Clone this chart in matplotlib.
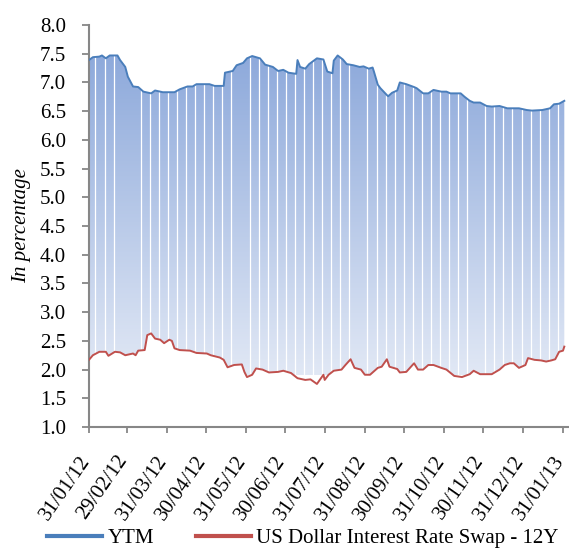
import numpy as np
import pandas as pd
import matplotlib
matplotlib.use("Agg")
import matplotlib.pyplot as plt
import matplotlib.dates as mdates
from matplotlib.colors import LinearSegmentedColormap
from matplotlib.lines import Line2D
from matplotlib.transforms import ScaledTranslation

# data
ytm_dates = ["2012-01-31", "2012-02-03", "2012-02-08", "2012-02-10", "2012-02-13", "2012-02-16",
             "2012-02-22", "2012-02-24", "2012-02-28", "2012-03-01", "2012-03-05", "2012-03-09",
             "2012-03-13", "2012-03-19", "2012-03-22", "2012-03-28", "2012-04-06", "2012-04-10",
             "2012-04-16", "2012-04-20", "2012-04-23", "2012-05-03", "2012-05-07", "2012-05-14",
             "2012-05-15", "2012-05-21", "2012-05-24", "2012-05-29", "2012-06-01", "2012-06-05",
             "2012-06-11", "2012-06-15", "2012-06-21", "2012-06-25", "2012-06-29", "2012-07-03",
             "2012-07-09", "2012-07-10", "2012-07-12", "2012-07-16", "2012-07-19", "2012-07-25",
             "2012-07-30", "2012-08-02", "2012-08-06", "2012-08-07", "2012-08-10", "2012-08-14",
             "2012-08-17", "2012-08-22", "2012-08-27", "2012-08-30", "2012-09-03", "2012-09-06",
             "2012-09-07", "2012-09-10", "2012-09-12", "2012-09-17", "2012-09-18", "2012-09-21",
             "2012-09-25", "2012-09-27", "2012-10-02", "2012-10-08", "2012-10-10", "2012-10-15",
             "2012-10-19", "2012-10-23", "2012-10-29", "2012-11-02", "2012-11-05", "2012-11-13",
             "2012-11-16", "2012-11-20", "2012-11-23", "2012-11-28", "2012-12-03", "2012-12-07",
             "2012-12-13", "2012-12-19", "2012-12-28", "2013-01-03", "2013-01-07", "2013-01-15",
             "2013-01-21", "2013-01-24", "2013-01-28", "2013-02-01"]
ytm_values = [7.39, 7.44, 7.45, 7.47, 7.42, 7.47,
              7.47, 7.39, 7.27, 7.10, 6.93, 6.92,
              6.84, 6.81, 6.86, 6.83, 6.83, 6.88,
              6.93, 6.93, 6.97, 6.97, 6.94, 6.94,
              7.17, 7.20, 7.30, 7.34, 7.42, 7.46,
              7.42, 7.31, 7.27, 7.20, 7.22, 7.17,
              7.15, 7.39, 7.27, 7.24, 7.32, 7.42,
              7.40, 7.19, 7.16, 7.38, 7.47, 7.40,
              7.32, 7.30, 7.27, 7.28, 7.24, 7.26,
              7.19, 6.96, 6.90, 6.78, 6.76, 6.82,
              6.86, 7.00, 6.97, 6.92, 6.90, 6.81,
              6.81, 6.87, 6.84, 6.84, 6.81, 6.81,
              6.75, 6.68, 6.65, 6.65, 6.59, 6.58,
              6.59, 6.55, 6.55, 6.52, 6.51, 6.52,
              6.55, 6.62, 6.63, 6.68]

swap_dates = ["2012-01-31", "2012-02-03", "2012-02-08", "2012-02-13", "2012-02-15", "2012-02-20",
              "2012-02-24", "2012-02-28", "2012-03-05", "2012-03-07", "2012-03-09", "2012-03-14",
              "2012-03-16", "2012-03-19", "2012-03-22", "2012-03-26", "2012-03-29", "2012-04-02",
              "2012-04-04", "2012-04-06", "2012-04-10", "2012-04-18", "2012-04-23", "2012-05-01",
              "2012-05-04", "2012-05-11", "2012-05-14", "2012-05-17", "2012-05-22", "2012-05-28",
              "2012-05-30", "2012-06-01", "2012-06-05", "2012-06-08", "2012-06-13", "2012-06-18",
              "2012-06-25", "2012-06-29", "2012-07-05", "2012-07-10", "2012-07-16", "2012-07-20",
              "2012-07-25", "2012-07-30", "2012-07-31", "2012-08-03", "2012-08-07", "2012-08-13",
              "2012-08-16", "2012-08-20", "2012-08-23", "2012-08-28", "2012-08-31", "2012-09-04",
              "2012-09-10", "2012-09-13", "2012-09-17", "2012-09-19", "2012-09-25", "2012-09-27",
              "2012-10-02", "2012-10-08", "2012-10-11", "2012-10-15", "2012-10-19", "2012-10-23",
              "2012-10-29", "2012-11-02", "2012-11-08", "2012-11-14", "2012-11-20", "2012-11-23",
              "2012-11-28", "2012-12-03", "2012-12-07", "2012-12-13", "2012-12-17", "2012-12-21",
              "2012-12-24", "2012-12-28", "2013-01-02", "2013-01-04", "2013-01-09", "2013-01-14",
              "2013-01-18", "2013-01-22", "2013-01-25", "2013-01-28", "2013-01-31", "2013-02-01"]
swap_values = [2.17, 2.25, 2.31, 2.31, 2.24, 2.31,
               2.30, 2.25, 2.28, 2.25, 2.33, 2.34,
               2.60, 2.63, 2.54, 2.52, 2.46, 2.52,
               2.50, 2.37, 2.34, 2.33, 2.29, 2.28,
               2.25, 2.21, 2.17, 2.04, 2.08, 2.09,
               1.96, 1.87, 1.91, 2.02, 2.00, 1.95,
               1.96, 1.98, 1.94, 1.85, 1.82, 1.83,
               1.75, 1.91, 1.82, 1.91, 1.98, 2.00,
               2.08, 2.18, 2.03, 2.00, 1.91, 1.91,
               2.03, 2.05, 2.18, 2.05, 2.01, 1.95,
               1.96, 2.11, 2.00, 2.00, 2.08, 2.08,
               2.03, 2.00, 1.89, 1.87, 1.92, 1.98,
               1.92, 1.92, 1.92, 2.00, 2.08, 2.11,
               2.11, 2.03, 2.08, 2.20, 2.17, 2.16,
               2.14, 2.16, 2.18, 2.31, 2.33, 2.40]

tick_dates = ["2012-01-31", "2012-02-29", "2012-03-31", "2012-04-30", "2012-05-31", "2012-06-30",
              "2012-07-31", "2012-08-31", "2012-09-30", "2012-10-31", "2012-11-30", "2012-12-31",
              "2013-01-31"]
tick_labels = ["31/01/12", "29/02/12", "31/03/12", "30/04/12", "31/05/12", "30/06/12",
               "31/07/12", "31/08/12", "30/09/12", "31/10/12", "30/11/12", "31/12/12",
               "31/01/13"]
# weekends where the chart shows no white gap
no_gap = ["2012-02-26", "2012-03-04", "2012-05-27", "2012-08-26", "2012-11-25"]

plt.rcParams['font.family'] = ['Liberation Serif', 'DejaVu Serif']
plt.rcParams['font.size'] = 15

fig = plt.figure(figsize=(5.69, 5.5), dpi=100)
ax = fig.add_axes([0.1564, 0.2236, 0.8433, 0.7309])

yx = mdates.date2num(pd.to_datetime(ytm_dates))
sx = mdates.date2num(pd.to_datetime(swap_dates))

# gradient area between the two series
poly = ax.fill(np.concatenate([yx, sx[::-1]]),
               np.concatenate([ytm_values, swap_values[::-1]]),
               facecolor='none', edgecolor='none')[0]
cmap = LinearSegmentedColormap.from_list('area', ['#E1E8F5', '#8DA9DB'])
grad = np.linspace(0, 1, 256).reshape(-1, 1)
im = ax.imshow(grad, cmap=cmap, origin='lower', aspect='auto',
               extent=[yx[0], yx[-1], 1.9, 7.5], zorder=1)
im.set_clip_path(poly)

# white weekend gaps
sundays = pd.date_range("2012-02-05", "2013-02-03", freq="W-SUN")
skip = set(pd.to_datetime(no_gap))
for d in sundays:
    if d not in skip:
        ax.axvline(mdates.date2num(d), color='white', lw=0.9, zorder=2)

ax.plot(yx, ytm_values, color='#4A7EBB', lw=1.4, zorder=3)
ax.plot(sx, swap_values, color='#C0504D', lw=1.4, zorder=3)

ax.set_xlim(mdates.date2num(pd.Timestamp("2012-01-31")),
            mdates.date2num(pd.Timestamp("2013-02-04 12:00")))
ax.set_ylim(1, 8)
ax.set_yticks(np.arange(1, 8.01, 0.5))
ax.set_yticklabels(["%.1f" % v for v in np.arange(1, 8.01, 0.5)])

# month-end ticks, labels placed by hand so they sit like the original
tick_x = mdates.date2num(pd.to_datetime(tick_dates))
ax.set_xticks(tick_x)
ax.tick_params(axis='x', labelbottom=False)
lbl_trans = ax.get_xaxis_transform() + ScaledTranslation(1 / 100, -33 / 100, fig.dpi_scale_trans)
for x, lbl in zip(tick_x, tick_labels):
    ax.text(x, 0, lbl, transform=lbl_trans, rotation=55, ha='right', va='baseline',
            rotation_mode='anchor')

for s in ['top', 'right']:
    ax.spines[s].set_visible(False)
for s in ['left', 'bottom']:
    ax.spines[s].set_color('#878787')
    ax.spines[s].set_linewidth(1.5)
ax.tick_params(axis='y', direction='out', length=5, width=1.3, color='#878787', pad=11.5)
ax.tick_params(axis='x', direction='out', length=4, width=1.3, color='#878787')

ax.set_ylabel('In percentage', style='italic', labelpad=6)

handles = [Line2D([], [], color='#4A7EBB', lw=3),
           Line2D([], [], color='#C0504D', lw=3)]
fig.legend(handles, ['YTM', 'US Dollar Interest Rate Swap - 12Y'], loc='center left',
           bbox_to_anchor=(47 / 569, 12 / 550), ncol=2, frameon=False, borderpad=0,
           borderaxespad=0, handlelength=2.65, handletextpad=0.25, columnspacing=2.0)

fig.savefig('out.png', dpi=100, facecolor='white')
